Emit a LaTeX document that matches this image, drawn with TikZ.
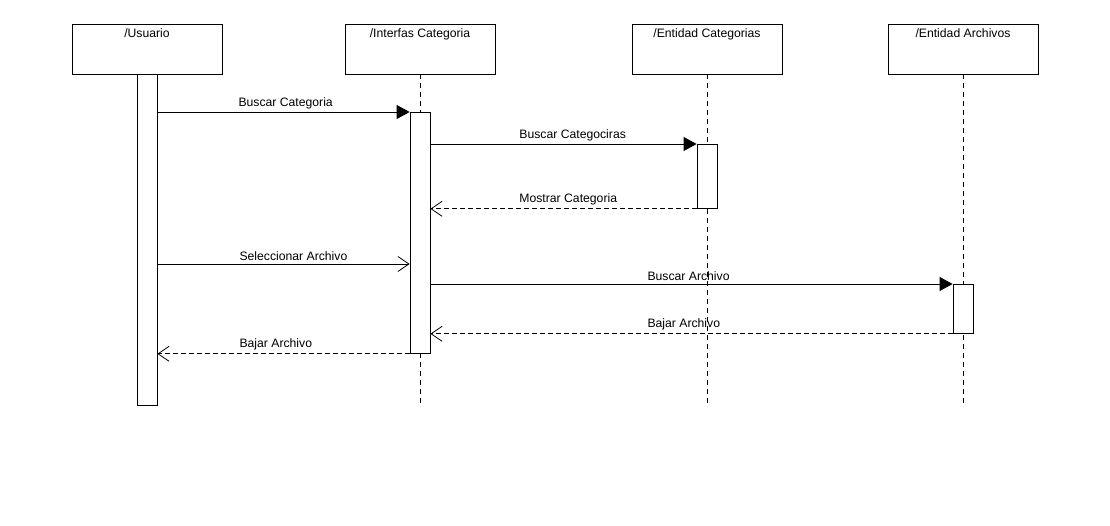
\documentclass[tikz,border=0pt]{standalone}
\usepackage{fontspec}
\setmainfont{Liberation Sans}
\usetikzlibrary{arrows.meta}

\begin{document}
\begin{tikzpicture}[line cap=butt,line join=miter,x=1pt,y=-1pt,line width=0.8pt,
	objbox/.style={draw,fill=white,minimum width=150pt,inner xsep=0pt,inner ysep=3pt,text height=11pt,text depth=33pt,
		font=\fontsize{12.2}{14}\selectfont},
	actbar/.style={draw,fill=white,minimum width=20pt,inner sep=0pt,anchor=north},
	lifeline/.style={line width=0.8pt,dash pattern=on 5pt off 4pt},
	msgtxt/.style={anchor=south west,inner xsep=0pt,inner ysep=3pt,font=\fontsize{12.2}{14}\selectfont},
	call/.style={-{Triangle[length=13pt,width=14pt]}},
	opencall/.style={-{Straight Barb[length=11pt,width=15pt,line width=0.8pt]}},
	reply/.style={-{Straight Barb[length=11pt,width=15pt,line width=0.8pt]},dash pattern=on 5pt off 3pt}]
				\useasboundingbox (0,0) rectangle (1110,526);
				\node[objbox] (usr) at (147,49) {/Usuario};
				\node[objbox] (inf) at (420,49) {/Interfas Categoria};
				\node[objbox] (ecat) at (707,49) {/Entidad Categorias};
				\node[objbox] (earc) at (963,49) {/Entidad Archivos};
				\coordinate (infend) at (420,405);
				\coordinate (ecatend) at (707,405);
				\coordinate (earcend) at (963,405);
				\coordinate (sel) at (0,264);
				\draw [lifeline] (inf.south) -- (infend);
				\draw [lifeline] (ecat.south) -- (ecatend);
				\draw [lifeline] (earc.south) -- (earcend);
				\node[actbar,minimum height=331pt] (usract) at (usr.south) {};
				\node[actbar,minimum height=241pt] (infact) at (420,112) {};
				\node[actbar,minimum height=64pt] (ecatact) at (707,144) {};
				\node[actbar,minimum height=49pt] (earcact) at (963,284) {};
				\draw [call] (usract.east |- infact.north) -- node[msgtxt,pos=0.32] (m1) {Buscar Categoria} (infact.north west);
				\draw [call] (infact.east |- ecatact.north) -- node[msgtxt,pos=0.333] (m2) {Buscar Categociras} (ecatact.north west);
				\draw [reply] (ecatact.south west) -- node[msgtxt,pos=0.667] (m3) {Mostrar Categoria} (infact.east |- ecatact.south);
				\draw [opencall] (usract.east |- sel) -- node[msgtxt,pos=0.324] (m4) {Seleccionar Archivo} (infact.west |- sel);
				\draw [call] (infact.east |- earcact.north) -- node[msgtxt,pos=0.415] (m5) {Buscar Archivo} (earcact.north west);
				\draw [reply] (earcact.south west) -- node[msgtxt,pos=0.585] (m6) {Bajar Archivo} (infact.east |- earcact.south);
				\draw [reply] (infact.south west) -- node[msgtxt,pos=0.676] (m7) {Bajar Archivo} (usract.east |- infact.south);
			\end{tikzpicture}
\end{document}
